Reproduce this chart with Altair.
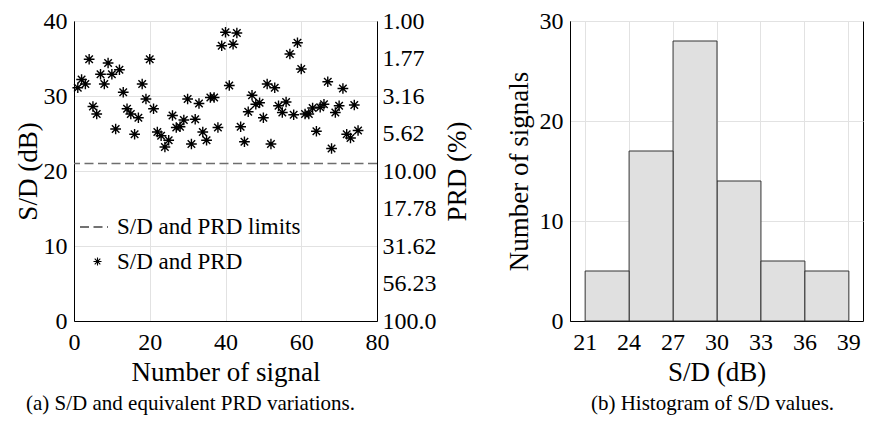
import json
import altair as alt
import pandas as pd

# ---------------- data ----------------
SIGNAL = list(range(1, 76))
SD_DB = [31.1, 32.2, 31.6, 34.9, 28.6, 27.6, 32.9, 31.6, 34.4, 32.9,
         25.6, 33.5, 30.5, 28.3, 27.6, 24.9, 27.1, 31.6, 29.6, 34.9,
         28.3, 25.2, 24.7, 23.2, 24.1, 27.4, 25.8, 25.9, 26.8, 29.6,
         23.6, 26.9, 29.0, 25.2, 24.1, 29.8, 29.8, 25.8, 36.7, 38.5,
         31.4, 36.9, 38.4, 25.9, 23.9, 27.9, 30.1, 28.9, 29.1, 27.1,
         31.6, 23.6, 31.1, 28.7, 27.8, 29.2, 35.6, 27.5, 37.1, 33.6,
         27.6, 27.6, 28.4, 25.3, 28.5, 28.9, 31.9, 23.0, 27.8, 28.7,
         31.0, 24.9, 24.4, 28.8, 25.4]
SD_LIMIT = [21.0]
SERIES_POINTS = "S/D and PRD"
SERIES_LIMIT = "S/D and PRD limits"

X_TICKS = [0, 20, 40, 60, 80]
SD_TICKS = [0, 10, 20, 30, 40]
PRD_TICK_DB = [0, 5, 10, 15, 20, 25, 30, 35, 40]
PRD_LABELS = ["100.0", "56.23", "31.62", "17.78", "10.00", "5.62", "3.16", "1.77", "1.00"]

HIST_TICKS = [21, 24, 27, 30, 33, 36, 39]
COUNT_TICKS = [0, 10, 20, 30]

FONT = "Liberation Serif"
ASTERISK = "M-1,0L1,0M0,-1L0,1M-0.7,-0.7L0.7,0.7M-0.7,0.7L0.7,-0.7"

pts = pd.DataFrame({"signal": SIGNAL, "sd": SD_DB, "series": SERIES_POINTS})
lim = pd.DataFrame({"sd": SD_LIMIT, "series": SERIES_LIMIT})

prd_expr = json.dumps(PRD_LABELS) + "[round(datum.value / 5)]"

# ---------------- left panel ----------------
x_left = alt.X("signal:Q",
               scale=alt.Scale(domain=[0, 80], nice=False, zero=False),
               axis=alt.Axis(values=X_TICKS, title="Number of signal", grid=True,
                             labelFlush=False, labelPadding=9, titlePadding=5))

points = alt.Chart(pts).mark_point(filled=False, color="black", strokeWidth=1.4, size=115, opacity=1).encode(
    x=x_left,
    y=alt.Y("sd:Q", scale=alt.Scale(domain=[0, 40], nice=False),
            axis=alt.Axis(values=SD_TICKS, title="S/D (dB)", grid=True, orient="left",
                          labelPadding=7, titlePadding=1)),
    shape=alt.Shape("series:N",
                    scale=alt.Scale(domain=[SERIES_POINTS], range=[ASTERISK]),
                    legend=alt.Legend(title=None, orient="none", legendX=12, legendY=229,
                                      symbolSize=64, symbolStrokeColor="black",
                                      symbolFillColor="transparent", symbolStrokeWidth=1.1,
                                      labelFont=FONT, labelFontSize=23, labelColor="black",
                                      labelOffset=8, labelLimit=0, padding=0)),
)

limit = alt.Chart(lim).mark_rule(color="#6e6e6e", strokeWidth=1.5).encode(
    y=alt.Y("sd:Q", scale=alt.Scale(domain=[0, 40], nice=False),
            axis=alt.Axis(values=PRD_TICK_DB, labelExpr=prd_expr, title="PRD (%)",
                          orient="right", grid=False, labelPadding=5, titlePadding=8,
                          titleAngle=270, titleBaseline="top")),
    strokeDash=alt.StrokeDash("series:N",
                              scale=alt.Scale(domain=[SERIES_LIMIT], range=[[9, 4.5]]),
                              legend=alt.Legend(title=None, orient="none", legendX=5, legendY=191,
                                                symbolType="stroke", symbolSize=784,
                                                symbolStrokeColor="#444", symbolStrokeWidth=1.3,
                                                symbolDash=[10, 8],
                                                labelFont=FONT, labelFontSize=23, labelColor="black",
                                                labelOffset=8, labelLimit=0, padding=0)),
)

left = alt.layer(limit, points).resolve_scale(y="independent").properties(
    width=303, height=300,
    title=alt.TitleParams("(a) S/D and equivalent PRD variations.", orient="bottom",
                          anchor="middle", frame="group", dx=-35, offset=8,
                          font=FONT, fontSize=21, fontWeight="normal", color="black"),
)

# ---------------- right panel ----------------
hist = alt.Chart(pts).mark_bar(fill="#e0e0e0", stroke="#333333", strokeWidth=1, binSpacing=0).encode(
    x=alt.X("sd:Q", bin=alt.Bin(extent=[21, 39], step=3),
            scale=alt.Scale(domain=[20, 40], nice=False, zero=False),
            axis=alt.Axis(values=HIST_TICKS, title="S/D (dB)", grid=True,
                          labelFlush=False, labelPadding=9, titlePadding=5)),
    y=alt.Y("count():Q", scale=alt.Scale(domain=[0, 30], nice=False),
            axis=alt.Axis(values=COUNT_TICKS, title="Number of signals", grid=True,
                          labelPadding=7, titlePadding=6)),
).properties(
    width=293, height=300,
    title=alt.TitleParams("(b) Histogram of S/D values.", orient="bottom",
                          anchor="middle", frame="group", dx=-4, offset=8,
                          font=FONT, fontSize=21, fontWeight="normal", color="black"),
)

chart = alt.hconcat(left, hist, spacing=33).properties(
    padding={"left": 5, "top": 0, "right": 0, "bottom": 0}
).configure(
    font=FONT
).configure_view(
    stroke="black", strokeWidth=1
).configure_axis(
    domainColor="black", domainWidth=1,
    ticks=False,
    labelFont=FONT, labelFontSize=24, labelColor="black",
    titleFont=FONT, titleFontSize=27, titleFontWeight="normal", titleColor="black",
    gridColor="#e2e2e2", gridWidth=1,
).configure_legend(
    labelFont=FONT
)

chart.save("out.html", embed_options={"renderer": "svg", "actions": False})
